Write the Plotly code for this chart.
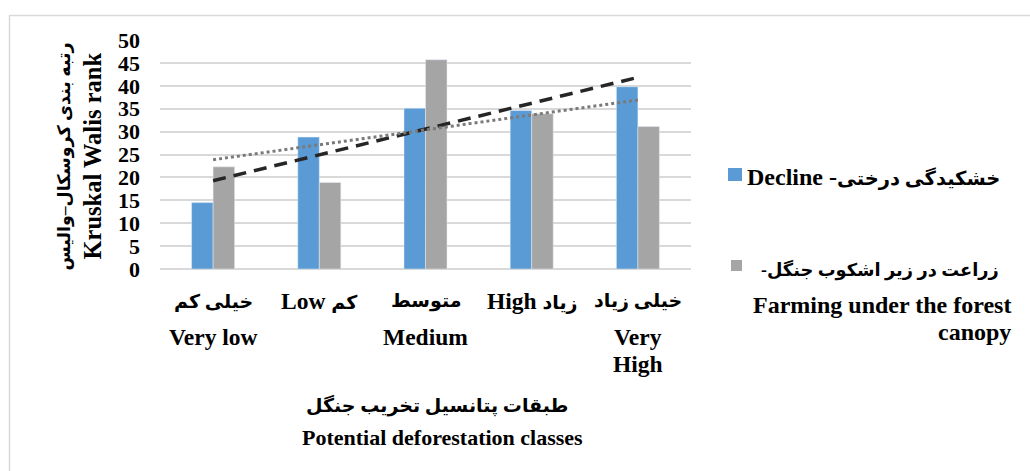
import numpy as np
import plotly.graph_objects as go

# Deforestation potential classes (x axis)
categories = ["Very low", "Low", "Medium", "High", "Very High"]
labels_fa = ["خیلی کم", "کم", "متوسط", "زیاد", "خیلی زیاد"]
labels_en_inline = ["", "Low", "", "High", ""]
labels_en = ["Very low", "", "Medium", "", "Very"]
labels_en2 = ["", "", "", "", "High"]

# Kruskal-Wallis mean ranks
decline = [14.5, 28.8, 35.1, 34.6, 39.8]
farming = [22.3, 18.9, 45.7, 33.9, 31.1]

y_ticks = list(range(0, 51, 5))

BLUE = "#5b9bd5"
GREY = "#a5a5a5"
FONT = "Liberation Serif, DejaVu Sans, serif"
FA_SIZE = 19


def fa(text, size=FA_SIZE):
    return f'<span style="font-size:{size}px">{text}</span>'


# linear trend lines (least squares over class index)
idx = np.arange(1, len(categories) + 1)
trend_dec = np.polyval(np.polyfit(idx, decline, 1), idx)
trend_farm = np.polyval(np.polyfit(idx, farming, 1), idx)

fig = go.Figure()
fig.add_bar(x=categories, y=decline, marker_color=BLUE, name="Decline")
fig.add_bar(x=categories, y=farming, marker_color=GREY, name="Farming")
fig.add_scatter(x=categories, y=trend_dec, mode="lines",
                line=dict(color="#262626", width=3.5, dash="13px,8px"))
fig.add_scatter(x=categories, y=trend_farm, mode="lines",
                line=dict(color="#7a7a7a", width=3, dash="3px,3px"))

L, R, T, B = 160, 339, 40, 202
W, H = 1030, 471
plot_h = H - T - B
BASE = H - B  # pixel row of y = 0


def bold(size):
    return dict(family=FONT, size=size, color="black", weight="bold")


ann = []

# category labels
for c, f, inl, en, en2 in zip(categories, labels_fa, labels_en_inline,
                              labels_en, labels_en2):
    top = (inl + " " + fa(f)) if inl else fa(f)
    ann.append(dict(x=c, xref="x", y=0, yref="paper", yshift=BASE - 301,
                    text=top, showarrow=False, font=bold(23.5),
                    xanchor="center", yanchor="middle"))
    if en:
        ann.append(dict(x=c, xref="x", y=0, yref="paper", yshift=BASE - 337,
                        text=en, showarrow=False, font=bold(23.5),
                        xanchor="center", yanchor="middle"))
    if en2:
        ann.append(dict(x=c, xref="x", y=0, yref="paper", yshift=BASE - 364,
                        text=en2, showarrow=False, font=bold(23.5),
                        xanchor="center", yanchor="middle"))

# x axis title
ann.append(dict(x=0, xref="paper", xshift=437 - L, y=0, yref="paper",
                yshift=BASE - 405, text=fa("طبقات پتانسیل تخریب جنگل"),
                showarrow=False, font=bold(22), xanchor="center", yanchor="middle"))
ann.append(dict(x=0, xref="paper", xshift=442 - L, y=0, yref="paper",
                yshift=BASE - 437, text="Potential deforestation classes",
                showarrow=False, font=bold(22), xanchor="center", yanchor="middle"))

# y axis title, two rotated lines
ann.append(dict(x=0, xref="paper", xshift=64 - L, y=0.5, yref="paper",
                yshift=-2, text=fa("رتبه بندی کروسکال–والیس", 17.5),
                textangle=-90, showarrow=False, font=bold(22),
                xanchor="center", yanchor="middle"))
ann.append(dict(x=0, xref="paper", xshift=92 - L, y=0.5, yref="paper",
                yshift=-2, text="Kruskal Walis rank",
                textangle=-90, showarrow=False, font=bold(24.5),
                xanchor="center", yanchor="middle"))

# legend entries
ann.append(dict(x=0, xref="paper", xshift=745 - L, y=0, yref="paper",
                yshift=BASE - 177, text="Decline -" + fa("خشکیدگی درختی", 19.5),
                showarrow=False, font=bold(24), xanchor="left", yanchor="middle"))
ann.append(dict(x=0, xref="paper", xshift=1001 - L, y=0, yref="paper",
                yshift=BASE - 270, text=fa("-زراعت در زیر اشکوب جنگل", 17.8),
                showarrow=False, font=bold(24), xanchor="right", yanchor="middle"))
ann.append(dict(x=0, xref="paper", xshift=1013 - L, y=0, yref="paper",
                yshift=BASE - 305, text="Farming under the forest",
                showarrow=False, font=bold(24), xanchor="right", yanchor="middle"))
ann.append(dict(x=0, xref="paper", xshift=1013 - L, y=0, yref="paper",
                yshift=BASE - 332, text="canopy",
                showarrow=False, font=bold(24), xanchor="right", yanchor="middle"))


def px_x(p):
    return (p - L) / (W - L - R)


def px_y(p):
    return (BASE - p) / plot_h


shapes = [
    dict(type="rect", xref="paper", yref="paper",
         x0=px_x(728), x1=px_x(742), y0=px_y(181), y1=px_y(168),
         fillcolor=BLUE, line_width=0),
    dict(type="rect", xref="paper", yref="paper",
         x0=px_x(731), x1=px_x(742), y0=px_y(271), y1=px_y(260),
         fillcolor=GREY, line_width=0),
    # outer frame (left and top edges)
    dict(type="line", xref="paper", yref="paper",
         x0=px_x(9.5), x1=px_x(9.5), y0=px_y(15), y1=px_y(480),
         line=dict(color="#d9d9d9", width=1.5)),
    dict(type="line", xref="paper", yref="paper",
         x0=px_x(9), x1=px_x(1040), y0=px_y(15.5), y1=px_y(15.5),
         line=dict(color="#d9d9d9", width=1.5)),
]

fig.update_layout(
    width=W, height=H,
    margin=dict(l=L, r=R, t=T, b=B),
    paper_bgcolor="white", plot_bgcolor="white",
    barmode="group", bargap=0.595, bargroupgap=0,
    showlegend=False,
    annotations=ann, shapes=shapes,
    font=dict(family=FONT, color="black"),
)
fig.update_xaxes(showticklabels=False, showgrid=False, showline=False,
                 ticks="", zeroline=False)
fig.update_yaxes(range=[0, 50], tickvals=y_ticks, showgrid=True,
                 gridcolor="#d9d9d9", gridwidth=1.5, zeroline=True,
                 zerolinecolor="#d9d9d9", zerolinewidth=1.5, showline=False,
                 ticks="", ticklabelstandoff=19,
                 tickfont=bold(22))

fig.write_html("out.html")
